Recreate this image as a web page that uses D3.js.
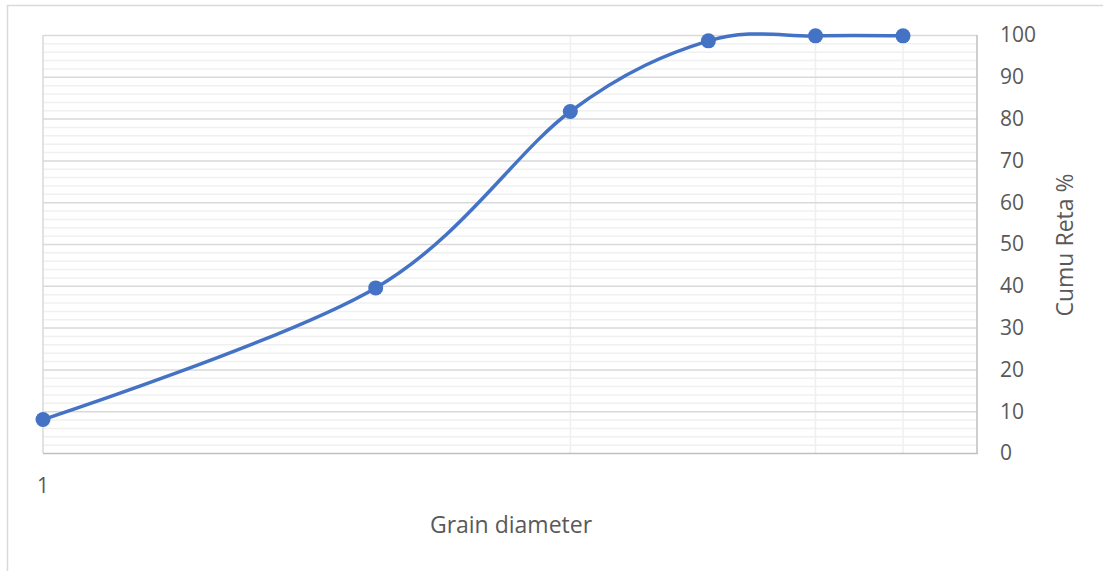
<!DOCTYPE html>
<html>
<head>
<meta charset="utf-8">
<script src="https://cdn.jsdelivr.net/npm/d3@7"></script>
<style>
  html, body { margin: 0; padding: 0; background: #fff; }
  svg { display: block; }
  text { font-family: "Open Sans", sans-serif; fill: #595959; }
</style>
</head>
<body>
<svg id="chart" width="1103" height="571"></svg>
<script>
// Sieve steps and cumulative retained percentage
const diameters = [1, 2, 3, 4, 5, 6];
const cumuRetained = [8, 39.5, 81.7, 98.6, 99.8, 99.8];
const xLabelTicks = [1];
const xGridValues = [3, 5, 6];
const yTicks = [0, 10, 20, 30, 40, 50, 60, 70, 80, 90, 100];

const svg = d3.select("#chart");
const W = 1103, H = 571;
const plot = { left: 43, right: 977, top: 35, bottom: 453 };

// Outer chart frame
svg.append("rect")
  .attr("x", 7.5).attr("y", 5.5)
  .attr("width", W + 10).attr("height", H + 10)
  .attr("fill", "#fff").attr("stroke", "#d9d9d9").attr("stroke-width", 1.5);

const x = d3.scaleLog().domain([1, 7]).range([plot.left, plot.right]);
const y = d3.scaleLinear().domain([0, 100]).range([plot.bottom, plot.top]);

// Minor horizontal gridlines every 2 units
const minor = d3.range(0, 101, 2).filter(v => v % 10 !== 0);
svg.append("g").selectAll("line").data(minor).join("line")
  .attr("x1", plot.left).attr("x2", plot.right)
  .attr("y1", d => y(d) + 0.5).attr("y2", d => y(d) + 0.5)
  .attr("stroke", "#f0f0f0").attr("stroke-width", 1.5);

// Vertical gridlines
svg.append("g").selectAll("line").data(xGridValues).join("line")
  .attr("x1", d => x(d)).attr("x2", d => x(d))
  .attr("y1", plot.top).attr("y2", plot.bottom)
  .attr("stroke", "#efefef").attr("stroke-width", 1.5);

// Major horizontal gridlines
svg.append("g").selectAll("line").data(yTicks.filter(v => v > 0)).join("line")
  .attr("x1", plot.left).attr("x2", plot.right)
  .attr("y1", d => y(d) + 0.5).attr("y2", d => y(d) + 0.5)
  .attr("stroke", "#d9d9d9").attr("stroke-width", 1.5);

// Left edge of the plot area
svg.append("line")
  .attr("x1", plot.left).attr("x2", plot.left)
  .attr("y1", plot.top).attr("y2", plot.bottom)
  .attr("stroke", "#d9d9d9").attr("stroke-width", 1.5);

// Axis lines (bottom and right)
svg.append("line")
  .attr("x1", plot.left).attr("x2", plot.right + 0.75)
  .attr("y1", plot.bottom + 0.5).attr("y2", plot.bottom + 0.5)
  .attr("stroke", "#bfbfbf").attr("stroke-width", 1.5);
svg.append("line")
  .attr("x1", plot.right).attr("x2", plot.right)
  .attr("y1", plot.top).attr("y2", plot.bottom + 1)
  .attr("stroke", "#bfbfbf").attr("stroke-width", 1.5);

// Right value axis labels
svg.append("g").selectAll("text").data(yTicks).join("text")
  .attr("x", 1000).attr("y", d => y(d))
  .attr("dy", "0.35em")
  .attr("font-size", 21)
  .text(d => d);

// Category axis label
svg.append("g").selectAll("text").data(xLabelTicks).join("text")
  .attr("x", d => x(d)).attr("y", 493)
  .attr("text-anchor", "middle")
  .attr("font-size", 21)
  .text(d => d);

// Axis titles
svg.append("text")
  .attr("x", (plot.left + plot.right) / 2 + 1).attr("y", 533)
  .attr("text-anchor", "middle")
  .attr("font-size", 23)
  .text("Grain diameter");

svg.append("text")
  .attr("transform", `translate(1073,${(plot.top + plot.bottom) / 2 + 1}) rotate(-90)`)
  .attr("text-anchor", "middle")
  .attr("font-size", 23)
  .text("Cumu Reta %");

// Smoothed series line with markers
const pts = diameters.map((d, i) => [x(d), y(cumuRetained[i])]);
svg.append("path")
  .attr("d", d3.line().curve(d3.curveCatmullRom.alpha(0))(pts))
  .attr("fill", "none")
  .attr("stroke", "#4472c4")
  .attr("stroke-width", 3.5)
  .attr("stroke-linecap", "round");

svg.append("g").selectAll("circle").data(pts).join("circle")
  .attr("cx", d => d[0]).attr("cy", d => d[1])
  .attr("r", 7.5)
  .attr("fill", "#4472c4");
</script>
</body>
</html>
